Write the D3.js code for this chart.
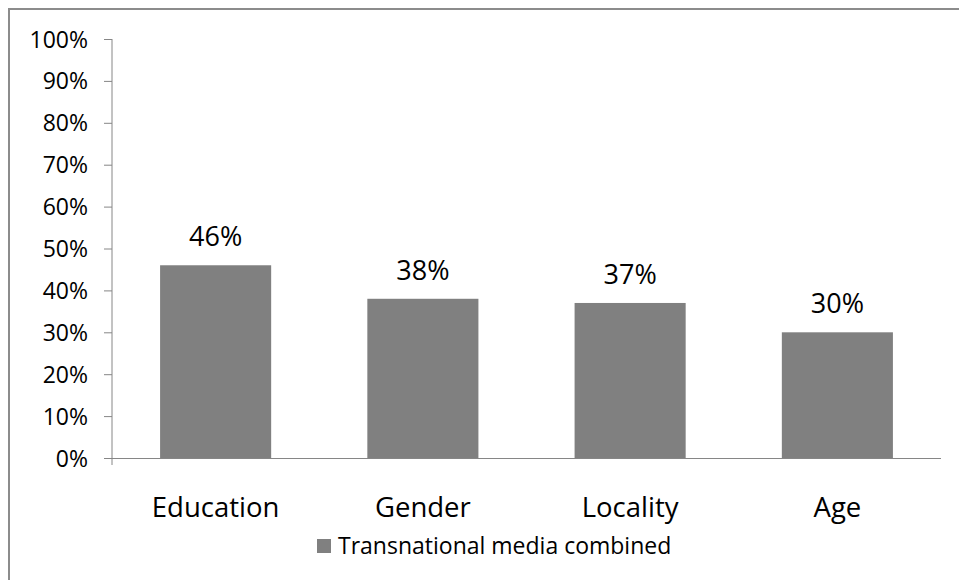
<!DOCTYPE html>
<html><head><meta charset="utf-8">
<script src="https://cdn.jsdelivr.net/npm/d3@7"></script>
<style>body{margin:0;background:#fff}svg{display:block}text{font-family:"Open Sans",sans-serif;fill:#000}</style>
</head><body>
<script>
const categories = ["Education","Gender","Locality","Age"];
const values = [46,38,37,30];
const yTicks = [0,10,20,30,40,50,60,70,80,90,100];
const seriesName = "Transnational media combined";

const W=959,H=580;
const svg=d3.select("body").append("svg").attr("width",W).attr("height",H);
svg.append("path").attr("d","M9,580 V9 H959").attr("fill","none").attr("stroke","#8c8c8c").attr("stroke-width",2);

const x0=112,x1=941,y0=458,y1=39;
const x=d3.scaleBand().domain(categories).range([x0,x1]).paddingInner(0.464).paddingOuter(0.232);
const y=d3.scaleLinear().domain([0,100]).range([y0,y1]);

svg.selectAll("rect.bar").data(values).join("rect")
  .attr("x",(d,i)=>x(categories[i])).attr("width",x.bandwidth())
  .attr("y",d=>y(d)).attr("height",d=>y0-y(d)).attr("fill","#808080");

const ya=svg.append("g").attr("transform",`translate(${x0},0)`)
  .call(d3.axisLeft(y).tickValues(yTicks).tickSize(8).tickPadding(16).tickFormat(d=>d+"%"));
ya.select(".domain").remove();
ya.selectAll("line").attr("stroke","#868686");
ya.selectAll("text").style("font-size","23px").attr("fill","#000").attr("dy","0.35em");
svg.append("line").attr("x1",x0).attr("x2",x0).attr("y1",y1).attr("y2",465).attr("stroke","#868686");

const xa=svg.append("g").attr("transform",`translate(0,${y0})`)
  .call(d3.axisBottom(x).tickSize(0).tickPadding(0));
xa.select(".domain").attr("stroke","#868686").attr("d",`M${x0},0.5H${x1}`);
xa.selectAll("text").style("font-size","27.5px").attr("fill","#000").attr("dy",null).attr("y",59);

svg.selectAll("text.lbl").data(values).join("text").attr("class","lbl")
  .attr("x",(d,i)=>x(categories[i])+x.bandwidth()/2).attr("y",d=>y(d)-19)
  .attr("text-anchor","middle").style("font-size","27px").text(d=>d+"%");

const lg=svg.append("g");
lg.append("rect").attr("x",317).attr("y",539).attr("width",14).attr("height",14).attr("fill","#808080");
lg.append("text").attr("x",338).attr("y",554).style("font-size","23px").text(seriesName);
</script>
</body></html>
